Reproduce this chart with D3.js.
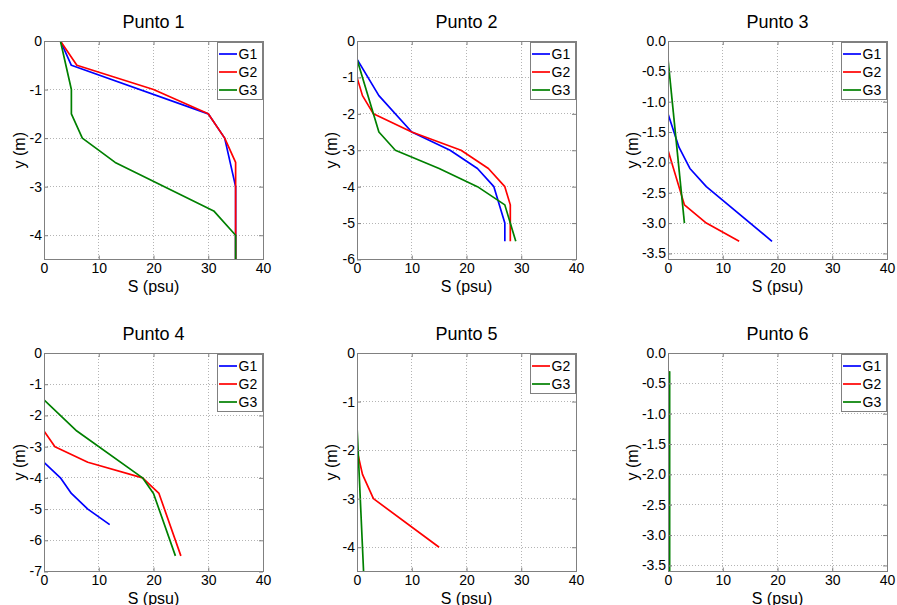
<!DOCTYPE html>
<html>
<head>
<meta charset="utf-8">
<script src="https://cdn.jsdelivr.net/npm/d3@7"></script>
<style>
  html, body { margin: 0; padding: 0; background: #fff; }
  svg { display: block; font-family: "Liberation Sans", Arial, sans-serif; }
</style>
</head>
<body>
<svg id="chart" width="897" height="605"></svg>
<script>
// Salinity profiles S (psu) against depth y (m) for six sampling points.
const seriesNames = ["G1", "G2", "G3"];
const seriesColors = { G1: "#0000ff", G2: "#ff0000", G3: "#008000" };

const xTicks = [0, 10, 20, 30, 40];
const yTicksInt45 = [0, -1, -2, -3, -4];
const yTicksInt6 = [0, -1, -2, -3, -4, -5, -6];
const yTicksInt7 = [0, -1, -2, -3, -4, -5, -6, -7];
const yTicksHalf = [0, -0.5, -1, -1.5, -2, -2.5, -3, -3.5];

// [S, y] pairs per profile
const punto1_G1 = [[3, 0], [5, -0.5], [30, -1.5], [33, -2], [35, -3], [35, -4.5]];
const punto1_G2 = [[3, 0], [6, -0.5], [20, -1], [30, -1.5], [33, -2], [35, -2.5], [35, -4.5]];
const punto1_G3 = [[3, 0], [5, -1], [5, -1.5], [7, -2], [13, -2.5], [31, -3.5], [35, -4], [35, -4.5]];

const punto2_G1 = [[0, -0.5], [4, -1.5], [10, -2.5], [17, -3], [22, -3.5], [25, -4], [27, -5], [27, -5.5]];
const punto2_G2 = [[0, -1], [1, -1.5], [3, -2], [10, -2.5], [19, -3], [24, -3.5], [27, -4], [28, -4.5], [28, -5.5]];
const punto2_G3 = [[0, 0], [0, -0.5], [4, -2.5], [7, -3], [15, -3.5], [22, -4], [27, -4.5], [29, -5.5]];

const punto3_G1 = [[0, -0.3], [0, -1.2], [2, -1.75], [4, -2.1], [7, -2.4], [19, -3.3]];
const punto3_G2 = [[0, -0.3], [0, -1.8], [3, -2.7], [7, -3], [13, -3.3]];
const punto3_G3 = [[0, -0.3], [3, -3]];

const punto4_G1 = [[0, 0], [0, -3.5], [3, -4], [5, -4.5], [8, -5], [12, -5.5]];
const punto4_G2 = [[0, 0], [0, -2.5], [2, -3], [8, -3.5], [18, -4], [21, -4.5], [25, -6.5]];
const punto4_G3 = [[0, 0], [0, -1.5], [6, -2.5], [18, -4], [20, -4.5], [24, -6.5]];

const punto5_G2 = [[0, 0], [0, -2], [1, -2.5], [3, -3], [15, -4]];
const punto5_G3 = [[0, 0], [0, -1.5], [1.2, -4.5]];

const punto6_G1 = [[0.1, -0.3], [0.1, -3.6]];
const punto6_G2 = [[0.2, -0.3], [0.2, -3.6]];
const punto6_G3 = [[0.3, -0.3], [0.3, -3.6]];

const fmtInt = d => String(d);
const fmtOne = d => d.toFixed(1);

const panels = [
  { title: "Punto 1", left: 44,  top: 41,  yMin: -4.5, yTicks: yTicksInt45, fmt: fmtInt, yLabelOff: 25,
    series: { G1: punto1_G1, G2: punto1_G2, G3: punto1_G3 } },
  { title: "Punto 2", left: 357, top: 41,  yMin: -6,   yTicks: yTicksInt6,  fmt: fmtInt, yLabelOff: 26,
    series: { G1: punto2_G1, G2: punto2_G2, G3: punto2_G3 } },
  { title: "Punto 3", left: 668, top: 41,  yMin: -3.6, yTicks: yTicksHalf,  fmt: fmtOne, yLabelOff: 36,
    series: { G1: punto3_G1, G2: punto3_G2, G3: punto3_G3 } },
  { title: "Punto 4", left: 44,  top: 353, yMin: -7,   yTicks: yTicksInt7,  fmt: fmtInt, yLabelOff: 25,
    series: { G1: punto4_G1, G2: punto4_G2, G3: punto4_G3 } },
  { title: "Punto 5", left: 357, top: 353, yMin: -4.5, yTicks: yTicksInt45, fmt: fmtInt, yLabelOff: 26,
    series: { G2: punto5_G2, G3: punto5_G3 } },
  { title: "Punto 6", left: 668, top: 353, yMin: -3.6, yTicks: yTicksHalf,  fmt: fmtOne, yLabelOff: 36,
    series: { G1: punto6_G1, G2: punto6_G2, G3: punto6_G3 } }
];

const PW = 219, PH = 218.5;
const frameColor = "#808080";
const gridColor = "#b4b4b4";

const svg = d3.select("#chart");

panels.forEach((p, i) => {
  const x = d3.scaleLinear().domain([0, 40]).range([0, PW]);
  const y = d3.scaleLinear().domain([p.yMin, 0]).range([PH, 0]);

  const g = svg.append("g").attr("transform", `translate(${p.left},${p.top})`);

  g.append("rect").attr("width", PW).attr("height", PH).attr("fill", "#fff");

  // dotted grid
  g.append("g").selectAll("line").data(xTicks.slice(1, -1)).join("line")
    .attr("x1", d => x(d)).attr("x2", d => x(d)).attr("y1", 0).attr("y2", PH)
    .attr("stroke", gridColor).attr("stroke-width", 1).attr("stroke-dasharray", "1,2")
    .attr("shape-rendering", "crispEdges");
  g.append("g").selectAll("line").data(p.yTicks.filter(d => d !== 0 && d > p.yMin)).join("line")
    .attr("x1", 0).attr("x2", PW).attr("y1", d => y(d)).attr("y2", d => y(d))
    .attr("stroke", gridColor).attr("stroke-width", 1).attr("stroke-dasharray", "1,2")
    .attr("shape-rendering", "crispEdges");

  // profiles, clipped to the plot box
  const clipId = "clip" + i;
  g.append("clipPath").attr("id", clipId).append("rect").attr("width", PW).attr("height", PH);
  const line = d3.line().x(d => x(d[0])).y(d => y(d[1]));
  const names = seriesNames.filter(n => p.series[n]);
  const plot = g.append("g").attr("clip-path", `url(#${clipId})`);
  names.forEach(n => {
    plot.append("path").datum(p.series[n])
      .attr("d", line).attr("fill", "none")
      .attr("stroke", seriesColors[n]).attr("stroke-width", 1.7)
      .attr("stroke-linejoin", "round");
  });

  // axes with inward ticks, mirrored on top and right
  const styleAxis = sel => {
    sel.select(".domain").remove();
    sel.selectAll(".tick line").attr("stroke", frameColor);
    sel.selectAll(".tick text").attr("fill", "#000").attr("font-size", 14)
      .attr("font-family", '"Liberation Sans", Arial, sans-serif');
  };
  g.append("g").attr("transform", `translate(0,${PH})`)
    .call(d3.axisBottom(x).tickValues(xTicks).tickFormat(fmtInt).tickSizeInner(-4).tickSizeOuter(0).tickPadding(4))
    .call(styleAxis);
  g.append("g")
    .call(d3.axisLeft(y).tickValues(p.yTicks).tickFormat(p.fmt).tickSizeInner(-4).tickSizeOuter(0).tickPadding(2))
    .call(styleAxis);
  g.append("g")
    .call(d3.axisTop(x).tickValues(xTicks).tickFormat("").tickSizeInner(-4).tickSizeOuter(0))
    .call(styleAxis);
  g.append("g").attr("transform", `translate(${PW},0)`)
    .call(d3.axisRight(y).tickValues(p.yTicks).tickFormat("").tickSizeInner(-4).tickSizeOuter(0))
    .call(styleAxis);

  g.append("rect").attr("width", PW).attr("height", PH)
    .attr("fill", "none").attr("stroke", frameColor).attr("stroke-width", 1)
    .attr("shape-rendering", "crispEdges");

  // titles and axis labels
  g.append("text").attr("x", PW / 2).attr("y", -13).attr("text-anchor", "middle")
    .attr("font-size", 18).attr("fill", "#000").text(p.title);
  g.append("text").attr("x", PW / 2).attr("y", PH + 32).attr("text-anchor", "middle")
    .attr("font-size", 16).attr("fill", "#000").text("S (psu)");
  g.append("text")
    .attr("transform", `translate(${-p.yLabelOff},${PH / 2}) rotate(-90)`)
    .attr("dy", "0.35em").attr("text-anchor", "middle")
    .attr("font-size", 16).attr("fill", "#000").text("y (m)");

  // legend
  const lw = 45, lh = 12 + 18 * (names.length - 1) + 9;
  const lg = g.append("g").attr("transform", `translate(${PW - lw - 1},1)`);
  lg.append("rect").attr("width", lw).attr("height", lh)
    .attr("fill", "#fff").attr("stroke", frameColor).attr("stroke-width", 1)
    .attr("shape-rendering", "crispEdges");
  names.forEach((n, k) => {
    const cy = 12 + 18 * k;
    lg.append("line").attr("x1", 2).attr("x2", 20).attr("y1", cy).attr("y2", cy)
      .attr("stroke", seriesColors[n]).attr("stroke-width", 1.7);
    lg.append("text").attr("x", 21.5).attr("y", cy).attr("dy", "0.36em")
      .attr("font-size", 14).attr("fill", "#000").text(n);
  });
});
</script>
</body>
</html>
